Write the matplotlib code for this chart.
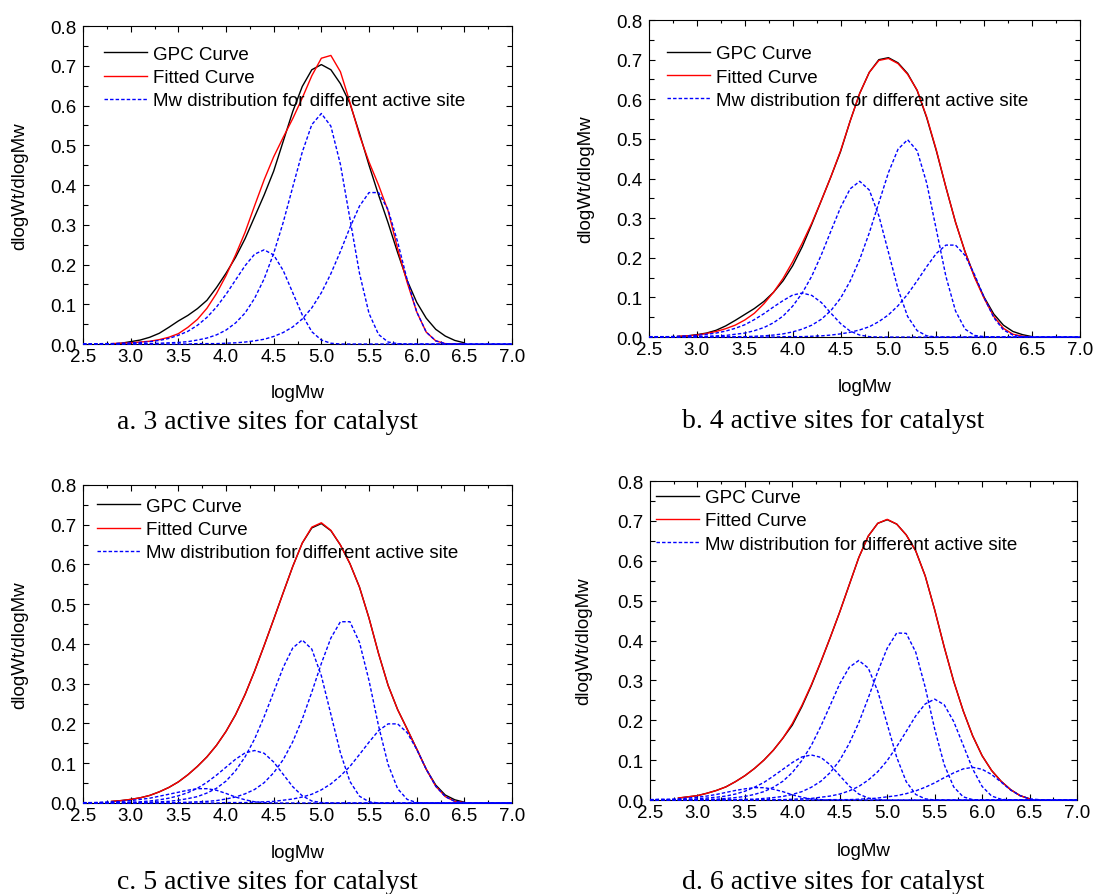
import matplotlib
matplotlib.use('Agg')
import matplotlib.pyplot as plt
from matplotlib.ticker import MultipleLocator, FormatStrFormatter

plt.rcParams['font.family'] = ['Liberation Sans', 'DejaVu Sans']

# logMw sampling points
logmw = [2.5, 2.6, 2.7, 2.8, 2.9, 3.0, 3.1, 3.2, 3.3, 3.4,
         3.5, 3.6, 3.7, 3.8, 3.9, 4.0, 4.1, 4.2, 4.3, 4.4,
         4.5, 4.6, 4.7, 4.8, 4.9, 5.0, 5.1, 5.2, 5.3, 5.4,
         5.5, 5.6, 5.7, 5.8, 5.9, 6.0, 6.1, 6.2, 6.3, 6.4,
         6.5, 6.6, 6.7, 6.8, 6.9, 7.0]
# GPC / fitted curves cover 2.8 .. 6.5
logmw_main = logmw[3:41]

# ---- a. 3 active sites
gpc_a = [0.000, 0.002, 0.006, 0.010, 0.017, 0.027, 0.042, 0.058, 0.072, 0.089,
         0.110, 0.142, 0.178, 0.218, 0.265, 0.320, 0.375, 0.435, 0.510, 0.585,
         0.648, 0.690, 0.703, 0.690, 0.655, 0.605, 0.530, 0.450, 0.375, 0.305,
         0.230, 0.160, 0.105, 0.065, 0.037, 0.020, 0.009, 0.003]
fit_a = [0.001, 0.002, 0.003, 0.005, 0.007, 0.011, 0.017, 0.026, 0.042, 0.062,
         0.090, 0.127, 0.172, 0.224, 0.281, 0.348, 0.413, 0.471, 0.520, 0.567,
         0.619, 0.675, 0.719, 0.726, 0.685, 0.608, 0.525, 0.458, 0.400, 0.335,
         0.240, 0.155, 0.081, 0.030, 0.008, 0.001, 0.000, 0.000]
site_a1 = [0.000, 0.000, 0.001, 0.001, 0.002, 0.003, 0.004, 0.006, 0.009, 0.014,
           0.022, 0.032, 0.047, 0.067, 0.093, 0.125, 0.161, 0.197, 0.226, 0.237,
           0.224, 0.185, 0.129, 0.073, 0.031, 0.010, 0.002, 0.000, 0.000, 0.000,
           0, 0, 0, 0, 0, 0, 0, 0, 0, 0, 0, 0, 0, 0, 0, 0]
site_a2 = [0, 0, 0, 0.000, 0.000, 0.000, 0.001, 0.001, 0.002, 0.003,
           0.004, 0.006, 0.010, 0.015, 0.023, 0.035, 0.053, 0.078, 0.115, 0.164,
           0.228, 0.306, 0.395, 0.483, 0.552, 0.580, 0.548, 0.452, 0.315, 0.178,
           0.077, 0.024, 0.005, 0.001, 0, 0, 0, 0, 0, 0, 0, 0, 0, 0, 0, 0]
site_a3 = [0, 0, 0, 0, 0, 0, 0, 0, 0, 0, 0, 0,
           0.001, 0.001, 0.001, 0.002, 0.003, 0.005, 0.008, 0.012,
           0.019, 0.029, 0.043, 0.063, 0.091, 0.129, 0.177, 0.233, 0.293, 0.347,
           0.381, 0.381, 0.338, 0.257, 0.162, 0.081, 0.030, 0.008, 0.001, 0.000,
           0, 0, 0, 0, 0, 0]

# ---- b. 4 active sites
gpc_b = [0.001, 0.003, 0.006, 0.010, 0.017, 0.028, 0.042, 0.057, 0.072, 0.090,
         0.113, 0.142, 0.180, 0.228, 0.285, 0.345, 0.405, 0.468, 0.545, 0.615,
         0.668, 0.700, 0.705, 0.692, 0.665, 0.622, 0.553, 0.470, 0.378, 0.290,
         0.215, 0.152, 0.100, 0.058, 0.030, 0.014, 0.006, 0.001]
fit_b = [0.002, 0.003, 0.005, 0.009, 0.014, 0.021, 0.030, 0.043, 0.060, 0.084,
         0.113, 0.148, 0.190, 0.237, 0.288, 0.345, 0.405, 0.470, 0.545, 0.615,
         0.668, 0.698, 0.703, 0.690, 0.663, 0.623, 0.555, 0.472, 0.378, 0.290,
         0.215, 0.150, 0.097, 0.052, 0.022, 0.007, 0.002, 0.000]
site_b1 = [0.001, 0.001, 0.001, 0.002, 0.003, 0.004, 0.007, 0.010, 0.015, 0.022,
           0.031, 0.044, 0.059, 0.076, 0.092, 0.106, 0.111, 0.105, 0.087, 0.060,
           0.034, 0.015, 0.005, 0.001, 0.000,
           0, 0, 0, 0, 0, 0, 0, 0, 0, 0, 0, 0, 0, 0, 0, 0, 0, 0, 0, 0, 0]
site_b2 = [0.000, 0.000, 0.000, 0.000, 0.001, 0.001, 0.002, 0.003, 0.004, 0.007,
           0.010, 0.016, 0.024, 0.036, 0.053, 0.078, 0.111, 0.154, 0.208, 0.268,
           0.327, 0.374, 0.393, 0.371, 0.306, 0.214, 0.121, 0.052, 0.016, 0.003,
           0.000, 0, 0, 0, 0, 0, 0, 0, 0, 0, 0, 0, 0, 0, 0, 0]
site_b3 = [0, 0, 0, 0, 0, 0, 0,
           0.000, 0.001, 0.001, 0.001, 0.002, 0.003, 0.005, 0.008, 0.013,
           0.020, 0.030, 0.045, 0.067, 0.098, 0.141, 0.196, 0.263, 0.339, 0.415,
           0.474, 0.498, 0.470, 0.388, 0.271, 0.153, 0.066, 0.020, 0.004, 0.001,
           0, 0, 0, 0, 0, 0, 0, 0, 0, 0]
site_b4 = [0, 0, 0, 0, 0, 0, 0, 0, 0, 0, 0, 0, 0,
           0.000, 0.001, 0.001, 0.001, 0.002, 0.003, 0.005, 0.008, 0.012, 0.018,
           0.026, 0.039, 0.056, 0.079, 0.108, 0.142, 0.178, 0.211, 0.232, 0.232,
           0.206, 0.157, 0.099, 0.049, 0.018, 0.005, 0.001, 0.000,
           0, 0, 0, 0, 0]

# ---- c. 5 active sites
gpc_c = [0.004, 0.006, 0.009, 0.013, 0.019, 0.028, 0.039, 0.053, 0.071, 0.092,
         0.116, 0.145, 0.180, 0.222, 0.273, 0.332, 0.396, 0.462, 0.529, 0.595,
         0.654, 0.692, 0.703, 0.685, 0.649, 0.602, 0.543, 0.465, 0.376, 0.296,
         0.235, 0.186, 0.136, 0.085, 0.045, 0.020, 0.008, 0.002]
fit_c = [0.004, 0.006, 0.009, 0.013, 0.019, 0.028, 0.039, 0.053, 0.071, 0.092,
         0.116, 0.145, 0.180, 0.222, 0.273, 0.332, 0.396, 0.462, 0.529, 0.595,
         0.654, 0.694, 0.705, 0.686, 0.649, 0.602, 0.543, 0.465, 0.376, 0.296,
         0.235, 0.186, 0.136, 0.085, 0.042, 0.016, 0.004, 0.001]
site_c1 = [0.001, 0.001, 0.002, 0.003, 0.004, 0.006, 0.009, 0.012, 0.017, 0.022,
           0.027, 0.032, 0.036, 0.036, 0.032, 0.024, 0.015, 0.008, 0.003, 0.001,
           0.000, 0, 0, 0, 0, 0, 0, 0, 0, 0, 0, 0, 0, 0, 0, 0, 0, 0, 0, 0,
           0, 0, 0, 0, 0, 0]
site_c2 = [0.000, 0.000, 0.001, 0.001, 0.001, 0.002, 0.003, 0.005, 0.008, 0.012,
           0.018, 0.026, 0.037, 0.052, 0.070, 0.090, 0.110, 0.126, 0.132, 0.125,
           0.103, 0.072, 0.041, 0.018, 0.005, 0.001, 0.000,
           0, 0, 0, 0, 0, 0, 0, 0, 0, 0, 0, 0, 0, 0, 0, 0, 0, 0, 0]
site_c3 = [0, 0, 0, 0,
           0.000, 0.001, 0.001, 0.002, 0.003, 0.004, 0.007, 0.011, 0.016, 0.025,
           0.037, 0.055, 0.081, 0.116, 0.161, 0.217, 0.279, 0.341, 0.390, 0.410,
           0.387, 0.320, 0.223, 0.126, 0.054, 0.017, 0.003, 0.000,
           0, 0, 0, 0, 0, 0, 0, 0, 0, 0, 0, 0, 0, 0]
site_c4 = [0, 0, 0, 0, 0, 0, 0, 0, 0, 0,
           0.001, 0.002, 0.003, 0.004, 0.006, 0.010, 0.015, 0.023, 0.034, 0.051,
           0.076, 0.109, 0.154, 0.211, 0.279, 0.351, 0.415, 0.456, 0.456, 0.404,
           0.308, 0.194, 0.097, 0.036, 0.009, 0.001, 0.000,
           0, 0, 0, 0, 0, 0, 0, 0, 0]
site_c5 = [0, 0, 0, 0, 0, 0, 0, 0, 0, 0, 0, 0, 0, 0,
           0.000, 0.001, 0.001, 0.001, 0.002, 0.003, 0.004, 0.007, 0.010, 0.015,
           0.022, 0.033, 0.048, 0.068, 0.092, 0.122, 0.153, 0.182, 0.199, 0.199,
           0.177, 0.135, 0.085, 0.042, 0.016, 0.004, 0.001, 0.000,
           0, 0, 0, 0]

# ---- d. 6 active sites
gpc_d = [0.005, 0.008, 0.011, 0.017, 0.024, 0.033, 0.046, 0.061, 0.079, 0.100,
         0.125, 0.155, 0.188, 0.234, 0.287, 0.346, 0.408, 0.472, 0.540, 0.608,
         0.662, 0.694, 0.703, 0.692, 0.665, 0.625, 0.562, 0.477, 0.384, 0.298,
         0.224, 0.161, 0.111, 0.074, 0.047, 0.026, 0.011, 0.003]
fit_d = [0.005, 0.008, 0.011, 0.017, 0.024, 0.033, 0.046, 0.061, 0.079, 0.100,
         0.125, 0.155, 0.192, 0.237, 0.289, 0.347, 0.408, 0.472, 0.540, 0.608,
         0.662, 0.694, 0.704, 0.692, 0.665, 0.625, 0.562, 0.477, 0.384, 0.298,
         0.224, 0.161, 0.111, 0.074, 0.047, 0.026, 0.011, 0.003]
site_d1 = [0.001, 0.002, 0.002, 0.003, 0.005, 0.007, 0.010, 0.014, 0.019, 0.024,
           0.028, 0.031, 0.031, 0.027, 0.021, 0.013, 0.007, 0.002, 0.001, 0.000,
           0, 0, 0, 0, 0, 0, 0, 0, 0, 0, 0, 0, 0, 0, 0, 0, 0, 0, 0, 0,
           0, 0, 0, 0, 0, 0]
site_d2 = [0.000, 0.001, 0.001, 0.001, 0.002, 0.003, 0.005, 0.007, 0.010, 0.015,
           0.022, 0.032, 0.044, 0.060, 0.077, 0.094, 0.108, 0.113, 0.107, 0.088,
           0.061, 0.035, 0.015, 0.005, 0.001, 0.000,
           0, 0, 0, 0, 0, 0, 0, 0, 0, 0, 0, 0, 0, 0, 0, 0, 0, 0, 0, 0]
site_d3 = [0.000, 0.000, 0.000, 0.000, 0.001, 0.001, 0.002, 0.002, 0.004, 0.006,
           0.009, 0.014, 0.021, 0.032, 0.047, 0.069, 0.099, 0.137, 0.185, 0.238,
           0.292, 0.333, 0.350, 0.331, 0.273, 0.190, 0.107, 0.046, 0.014, 0.003,
           0.000, 0, 0, 0, 0, 0, 0, 0, 0, 0, 0, 0, 0, 0, 0, 0]
site_d4 = [0, 0, 0, 0, 0,
           0.000, 0.000, 0.000, 0.001, 0.001, 0.002, 0.002, 0.004, 0.006, 0.009,
           0.014, 0.021, 0.032, 0.047, 0.069, 0.100, 0.142, 0.194, 0.256, 0.322,
           0.381, 0.419, 0.418, 0.371, 0.283, 0.178, 0.089, 0.033, 0.008, 0.001,
           0.000, 0, 0, 0, 0, 0, 0, 0, 0, 0, 0]
site_d5 = [0, 0, 0, 0, 0, 0, 0, 0, 0, 0,
           0.000, 0.000, 0.001, 0.001, 0.001, 0.002, 0.003, 0.004, 0.007, 0.010,
           0.015, 0.023, 0.034, 0.050, 0.071, 0.099, 0.134, 0.172, 0.211, 0.241,
           0.253, 0.239, 0.197, 0.138, 0.078, 0.034, 0.010, 0.002, 0.000,
           0, 0, 0, 0, 0, 0, 0]
site_d6 = [0, 0, 0, 0, 0, 0, 0, 0, 0, 0, 0, 0, 0, 0, 0,
           0.000, 0.000, 0.000, 0.000, 0.001, 0.001, 0.001, 0.002, 0.003, 0.005,
           0.008, 0.011, 0.016, 0.023, 0.032, 0.043, 0.056, 0.068, 0.078, 0.082,
           0.077, 0.064, 0.045, 0.025, 0.011, 0.003, 0.001, 0.000,
           0, 0, 0]

captions = ['a. 3 active sites for catalyst', 'b. 4 active sites for catalyst',
            'c. 5 active sites for catalyst', 'd. 6 active sites for catalyst']


def draw_panel(ax, gpc, fit, sites, legend_anchor, ylab_x, xlab_y):
    l1, = ax.plot(logmw_main, gpc, color='black', lw=1.0)
    l2, = ax.plot(logmw_main, fit, color='red', lw=1.0)
    l3 = None
    for s in sites:
        ln, = ax.plot(logmw, s, color='blue', lw=1.0, linestyle=(0, (2.5, 1.5)),
                      zorder=3, clip_on=False)
        if l3 is None:
            l3 = ln
    ax.set_xlim(2.5, 7.0)
    ax.set_ylim(0, 0.8)
    ax.xaxis.set_major_locator(MultipleLocator(0.5))
    ax.xaxis.set_minor_locator(MultipleLocator(0.25))
    ax.yaxis.set_major_locator(MultipleLocator(0.1))
    ax.yaxis.set_minor_locator(MultipleLocator(0.05))
    ax.xaxis.set_major_formatter(FormatStrFormatter('%.1f'))
    ax.yaxis.set_major_formatter(FormatStrFormatter('%.1f'))
    ax.tick_params(which='both', direction='in', top=True, right=True,
                   labelsize=13.5, width=0.8)
    ax.tick_params(axis='x', which='major', length=4, pad=3)
    ax.tick_params(axis='x', which='minor', length=2.2)
    ax.tick_params(axis='y', which='major', length=4, pad=5)
    ax.tick_params(axis='y', which='minor', length=3.3)
    for sp in ax.spines.values():
        sp.set_linewidth(0.8)
    ax.set_xlabel('logMw', fontsize=13.5)
    ax.set_ylabel('dlogWt/dlogMw', fontsize=13.5)
    ax.xaxis.set_label_coords(0.5, xlab_y)
    ax.yaxis.set_label_coords(ylab_x, 0.5)
    ax.legend([l1, l2, l3],
              ['GPC Curve', 'Fitted Curve', 'Mw distribution for different active site'],
              loc='upper left', bbox_to_anchor=legend_anchor, frameon=False,
              fontsize=13.5, borderpad=0, borderaxespad=0, handlelength=2.3,
              handletextpad=0.32, labelspacing=0.33)


fig = plt.figure(figsize=(10.95, 8.95), dpi=100)
ax_a = fig.add_axes([0.0758, 0.6145, 0.3918, 0.3553])
ax_b = fig.add_axes([0.5927, 0.6223, 0.3936, 0.3542])
ax_c = fig.add_axes([0.0758, 0.1017, 0.3918, 0.3553])
ax_d = fig.add_axes([0.5936, 0.1050, 0.3900, 0.3564])

draw_panel(ax_a, gpc_a, fit_a, [site_a1, site_a2, site_a3], (0.049, 0.938), -0.128, -0.125)
draw_panel(ax_b, gpc_b, fit_b, [site_b1, site_b2, site_b3, site_b4], (0.042, 0.921), -0.128, -0.128)
draw_panel(ax_c, gpc_c, fit_c, [site_c1, site_c2, site_c3, site_c4, site_c5], (0.033, 0.96), -0.128, -0.128)
draw_panel(ax_d, gpc_d, fit_d, [site_d1, site_d2, site_d3, site_d4, site_d5, site_d6], (0.014, 0.975), -0.136, -0.133)

cap_pos = [(0.2438, 0.5274), (0.7607, 0.5285), (0.2438, 0.0145), (0.7607, 0.0145)]
for (cx, cy), cap in zip(cap_pos, captions):
    fig.text(cx, cy, cap, ha='center', va='center', fontsize=20,
             family=['Liberation Serif', 'DejaVu Serif'])

fig.savefig('out.png', dpi=100)
